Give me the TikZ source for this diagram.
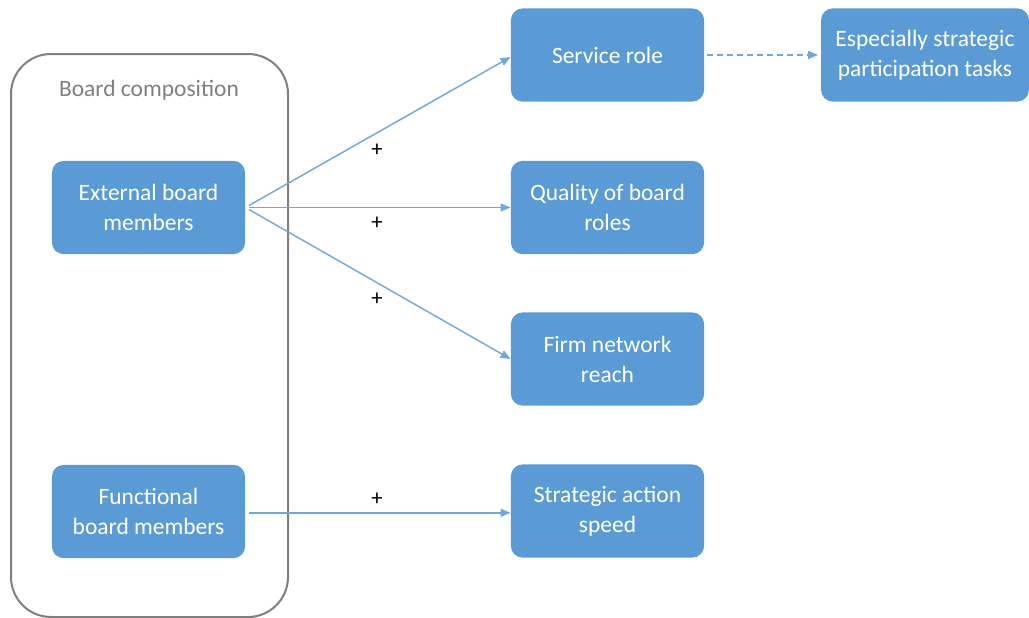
\documentclass[tikz,border=0pt]{standalone}
\usepackage{fontspec}
\setmainfont{Carlito}
\usetikzlibrary{arrows.meta}
\definecolor{boxblue}{HTML}{5B9BD5}
\definecolor{linkblue}{HTML}{6FA8DC}
\definecolor{framegray}{HTML}{7F7F7F}
\begin{document}
\begin{tikzpicture}[x=0.75pt,y=-0.75pt,
  rolebox/.style={draw=none,fill=boxblue,rounded corners=9pt,
    minimum width=145pt,minimum height=70pt,align=center,
    text=white,font=\fontsize{17.6}{22.5}\selectfont,inner sep=0pt},
  link/.style={draw=linkblue,line width=1.1pt,
    -{Triangle[length=7.5pt,width=6pt]}},
  sign/.style={font=\fontsize{17}{18}\selectfont,text=black,inner sep=0pt}]
\useasboundingbox (0,0) rectangle (1029,618);

% group frame
\draw[framegray,line width=1.5pt,rounded corners=30pt] (11,54) rectangle (288,617);
\node[text=framegray,font=\fontsize{17.6}{20}\selectfont] (grp) at (149,90) {Board composition};

% boxes
\node[rolebox] (ext) at (148.5,207.5) {External board\\members};
\node[rolebox] (fun) at (148.5,511.5) {Functional\\board members};
\node[rolebox] (svc) at (607.5,55) {Service role};
\node[rolebox] (qual) at (607.5,207.5) {Quality of board\\roles};
\node[rolebox] (firm) at (607.5,359) {Firm network\\reach};
\node[rolebox] (speed) at (607.5,511) {Strategic action\\speed};
\node[rolebox,minimum width=156pt] (task) at (925,55) {Especially strategic\\participation tasks};

% connectors
\draw[link,shorten <=3pt] (ext.east) -- ([yshift=-1.5pt]svc.west);
\draw[link,shorten <=3pt] (ext.east) -- (qual.west);
\draw[link,shorten <=3pt] (ext.east) -- (firm.west);
\draw[link,shorten <=3pt] ([yshift=-1pt]fun.east) -- ([yshift=-1pt]fun.east -| speed.west);
\draw[link,dashed,dash pattern=on 4.5pt off 3pt,shorten <=2pt,shorten >=2pt] (svc.east) -- (task.west);

% signs
\node[sign] (s1) at (377,150) {+};
\node[sign] (s2) at (377,223) {+};
\node[sign] (s3) at (377,299) {+};
\node[sign] (s4) at (377,499) {+};
\end{tikzpicture}
\end{document}
